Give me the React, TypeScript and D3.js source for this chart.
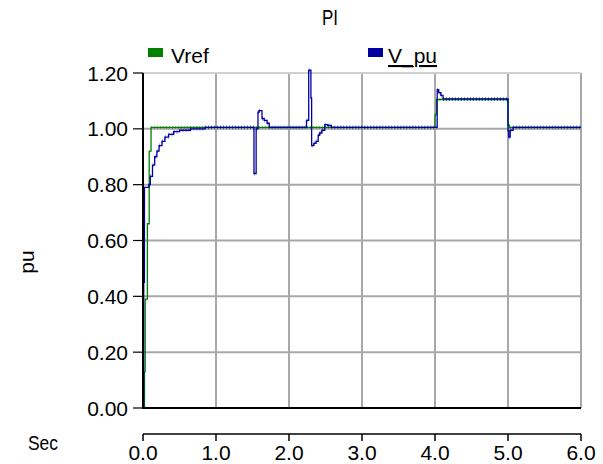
import React from "react";
import * as d3 from "d3";

// step samples: [time s, pu]
const vrefTimes = [0, 0.02, 0.03, 0.06, 0.085, 0.11, 4.0, 4.02, 5.0, 5.02, 6.0];
const vrefValues = [0, 0.13, 0.39, 0.66, 0.92, 1.005, 1.05, 1.105, 1.013, 1.005, 1.005];

const vpuTimes = [
  0, 0.01, 0.02, 0.08, 0.1, 0.13, 0.16, 0.19, 0.22, 0.26, 0.3, 0.35, 0.42, 0.5, 0.65, 0.85,
  1.52, 1.55, 1.575, 1.59, 1.63, 1.66, 1.7, 1.73,
  2.24, 2.27, 2.3, 2.31, 2.34, 2.37, 2.4, 2.42, 2.45, 2.49, 2.53, 2.58,
  4.03, 4.05, 4.08, 4.11, 5.0, 5.01, 5.03, 5.07, 6.0,
];
const vpuValues = [
  0, 0.45, 0.79, 0.8, 0.83, 0.87, 0.9, 0.92, 0.94, 0.955, 0.97, 0.98, 0.99, 0.995, 1.0, 1.005,
  0.84, 1.0, 1.06, 1.065, 1.037, 1.03, 1.02, 1.005,
  1.03, 1.21, 1.11, 0.94, 0.948, 0.955, 0.977, 0.985, 0.995, 1.015, 1.012, 1.005,
  1.14, 1.13, 1.12, 1.107, 0.993, 0.97, 0.995, 1.005, 1.005,
];

const xTicks = [0, 1, 2, 3, 4, 5, 6];
const yTicks = [0, 0.2, 0.4, 0.6, 0.8, 1.0, 1.2];

const FONT = "'Liberation Sans', Arial, sans-serif";
const GREEN = "#008000";
const BLUE = "#0000a0";

export default function App() {
  const width = 603;
  const height = 464;
  const x = d3.scaleLinear().domain([0, 6]).range([143, 581]);
  const y = d3.scaleLinear().domain([0, 1.2]).range([408, 73]);

  const line = d3
    .line<[number, number]>()
    .x((d) => x(d[0]))
    .y((d) => y(d[1]))
    .curve(d3.curveStepAfter);

  const vref = vrefTimes.map((t, i) => [t, vrefValues[i]] as [number, number]);
  const vpu = vpuTimes.map((t, i) => [t, vpuValues[i]] as [number, number]);

  // the flat parts only, so the sample hatching doesn't land on the jumps
  const flats = (pts: [number, number][]) =>
    pts
      .slice(0, -1)
      .map((p, i) => `M${x(p[0])},${y(p[1])}H${x(pts[i + 1][0])}`)
      .join("");

  return (
    <svg
      width={width}
      height={height}
      style={{ position: "absolute", left: 0, top: 0, background: "#fff" }}
      fontFamily={FONT}
    >
      {/* title */}
      <text x={330} y={25} fontSize={22} textAnchor="middle" textLength={16} lengthAdjust="spacingAndGlyphs">
        PI
      </text>

      {/* legend */}
      <rect x={148} y={48} width={15} height={9} fill={GREEN} />
      <text x={171} y={63} fontSize={21}>Vref</text>
      <rect x={368} y={48} width={15} height={9} fill={BLUE} />
      <text x={388} y={63} fontSize={21} textDecoration="underline">V_pu</text>

      {/* grid */}
      {xTicks.slice(1).map((t) => (
        <line key={"gx" + t} x1={x(t)} x2={x(t)} y1={y(1.2)} y2={y(0)} stroke="#a8a8a8" strokeWidth={2} />
      ))}
      {yTicks.slice(1).map((v) => (
        <line
          key={"gy" + v}
          x1={x(0)}
          x2={x(6)}
          y1={y(v)}
          y2={y(v)}
          stroke={v === 1.2 ? "#d0d0d0" : "#a8a8a8"}
          strokeWidth={2}
        />
      ))}

      {/* traces */}
      <path d={line(vref) ?? ""} fill="none" stroke={GREEN} strokeWidth={1.3} />
      <path d={flats(vref.slice(5))} fill="none" stroke={GREEN} strokeWidth={3} strokeDasharray="1 2" opacity={0.45} />
      <path d={line(vpu) ?? ""} fill="none" stroke={BLUE} strokeWidth={1.3} />
      <path d={flats(vpu.slice(3))} fill="none" stroke={BLUE} strokeWidth={4} strokeDasharray="1 2" opacity={0.45} />

      {/* y axis */}
      <line x1={x(0)} x2={x(0)} y1={y(1.2)} y2={y(0) + 1} stroke="#000" strokeWidth={2} />
      <line x1={x(0)} x2={x(6)} y1={y(0)} y2={y(0)} stroke="#000" strokeWidth={2} />
      {yTicks.map((v) => (
        <g key={"yt" + v}>
          <line x1={x(0) - 10} x2={x(0)} y1={y(v)} y2={y(v)} stroke="#000" strokeWidth={1.2} />
          <text x={128} y={y(v)} dy="0.36em" fontSize={21} textAnchor="end">
            {d3.format(".2f")(v)}
          </text>
        </g>
      ))}
      <g transform="translate(34,262) rotate(-90)">
        <text x={0} y={0} fontSize={21} textAnchor="middle">
          pu
        </text>
      </g>

      {/* x axis (detached) */}
      <line x1={x(0)} x2={x(6)} y1={434} y2={434} stroke="#000" strokeWidth={1.5} />
      {xTicks.map((t) => (
        <g key={"xt" + t}>
          <line x1={x(t)} x2={x(t)} y1={434} y2={441} stroke="#000" strokeWidth={1.5} />
          <text x={x(t)} y={460} fontSize={21} textAnchor="middle">
            {d3.format(".1f")(t)}
          </text>
        </g>
      ))}
      <text x={28} y={450} fontSize={21} textLength={30} lengthAdjust="spacingAndGlyphs">
        Sec
      </text>
    </svg>
  );
}
